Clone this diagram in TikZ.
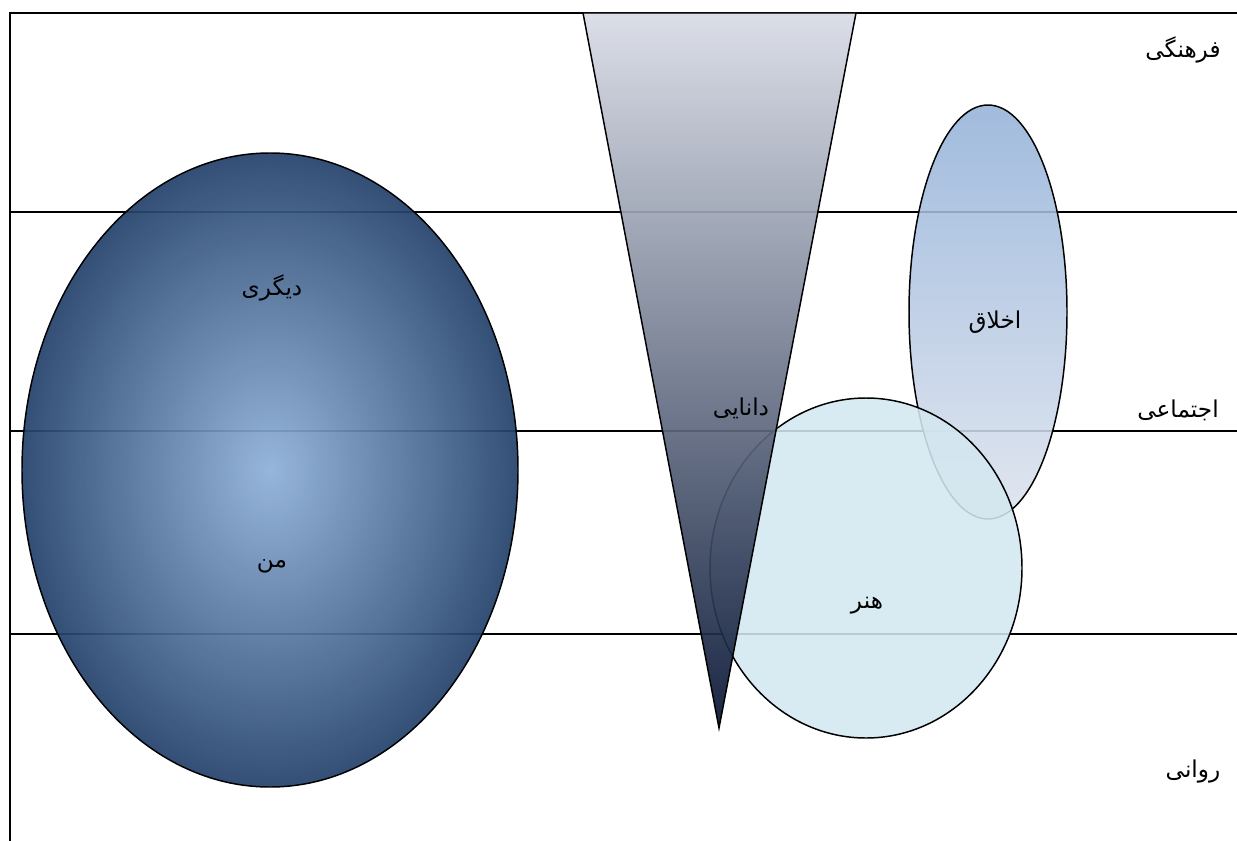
\documentclass[tikz,border=0pt]{standalone}
\usepackage{fontspec}
\usepackage{xcolor}
\usepackage{tikz}
\usetikzlibrary{calc,positioning}
\newfontfamily\arabicfont[Script=Arabic]{DejaVu Sans}
\TeXXeTstate=1
\definecolor{SelfCenter}{HTML}{8FB0D8}
\definecolor{SelfEdge}{HTML}{24426C}
\definecolor{WisdomTop}{HTML}{D8DCE6}
\definecolor{WisdomMid}{HTML}{76809C}
\definecolor{WisdomTip}{HTML}{061433}
\definecolor{EthicsTop}{HTML}{94B2D9}
\definecolor{EthicsLow}{HTML}{DDE3EE}
\definecolor{ArtFill}{HTML}{D3E8F0}
\definecolor{Ink}{HTML}{000000}

\begin{document}
\begin{tikzpicture}[x=0.025cm,y=-0.025cm,
  level/.style={draw=Ink,line width=0.9pt},
  lbl/.style={font=\arabicfont\fontsize{16.5}{18}\selectfont,text=Ink,inner sep=1pt},
  blob/.style={draw=Ink,line width=1.05pt}
]
\useasboundingbox (0,0) rectangle (1237,841);

\draw[level] (10,841) -- (10,13) -- (1237,13);
\draw[level] (10,212) -- (1237,212);
\draw[level] (10,431) -- (1237,431);
\draw[level] (10,634) -- (1237,634);

\draw[blob,inner color=SelfCenter,outer color=SelfEdge,fill opacity=0.93]
  (270,470) ellipse [x radius=248,y radius=317];
\draw[blob,top color=EthicsTop,bottom color=EthicsLow,fill opacity=0.88]
  (988,312) ellipse [x radius=79,y radius=207];
\draw[blob,fill=ArtFill,fill opacity=0.88]
  (866,568) ellipse [x radius=156,y radius=170];
\draw[blob,top color=WisdomTop,middle color=WisdomMid,bottom color=WisdomTip,fill opacity=0.92]
  (583,13) -- (856,13) -- (719,728) -- cycle;

\node[lbl] (farhangi) at (1183,50) {\beginR فرهنگی\endR};
\node[lbl] (ejtemai) at (1178,410) {\beginR اجتماعی\endR};
\node[lbl] (ravani) at (1193,772) {\beginR روانی\endR};
\node[lbl] (digari) at (272,288) {\beginR دیگری\endR};
\node[lbl] (man) at (272,566) {\beginR من\endR};
\node[lbl] (danayi) at (741,408) {\beginR دانایی\endR};
\node[lbl] (akhlagh) at (995,322) {\beginR اخلاق\endR};
\node[lbl] (honar) at (867,606) {\beginR هنر\endR};
\end{tikzpicture}
\end{document}
